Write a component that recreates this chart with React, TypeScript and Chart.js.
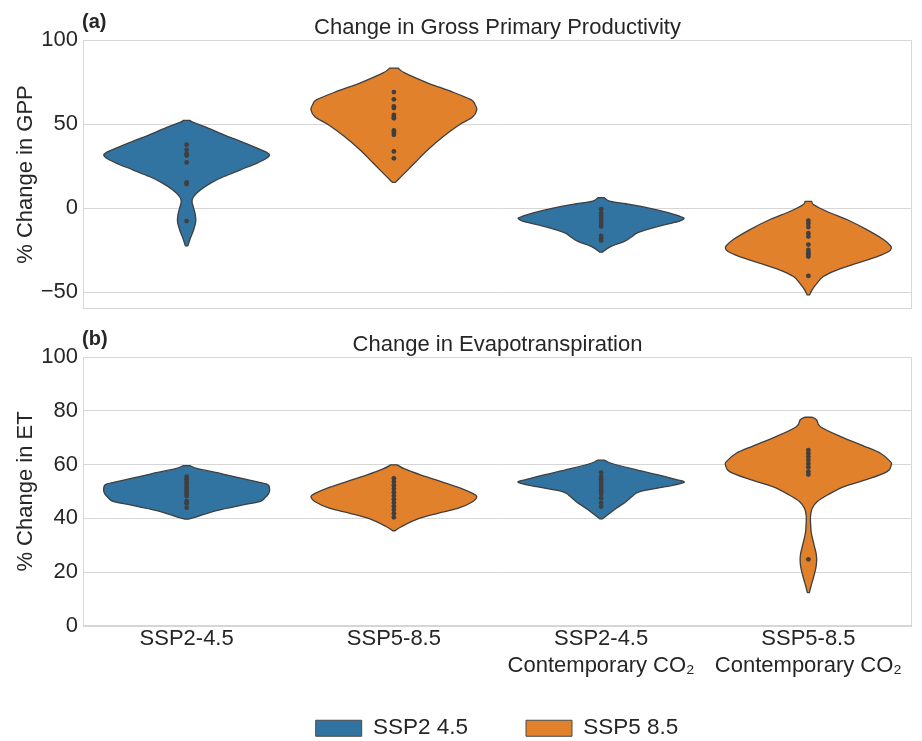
import React, { useEffect, useRef } from 'react';
import { Chart, registerables } from 'chart.js';

Chart.register(...registerables);

const FONT = '"Liberation Sans", Arial, Helvetica, sans-serif';
const TEXT = '#262626';
const GRID = '#d6d6d6';
const EDGE = '#3f3f3f';
const BLUE = '#3274a1';
const ORANGE = '#e1812c';

// categories (x axis)
const categories: string[][] = [
  ['SSP2-4.5'],
  ['SSP5-8.5'],
  ['SSP2-4.5', 'Contemporary CO\u2082'],
  ['SSP5-8.5', 'Contemporary CO\u2082'],
];
const seriesColors = [BLUE, ORANGE, BLUE, ORANGE];
const legendLabels = ['SSP2 4.5', 'SSP5 8.5'];
const legendColors = [BLUE, ORANGE];

// tick labels
const gppTicks = [-50, 0, 50, 100];
const etTicks = [0, 20, 40, 60, 80, 100];

// (a) GPP model values (% change)
const gppSSP245 = [37.7, 34.7, 32.3, 31.3, 27.2, 15.3, 14.3, -7.7];
const gppSSP585 = [69.0, 64.7, 60.5, 59.5, 55.4, 54.2, 53.4, 46.2, 45.0, 43.6, 33.7, 29.6];
const gppSSP245C = [-0.6, -3.0, -4.6, -6.2, -7.7, -9.3, -10.9, -16.5, -18.1, -19.2];
const gppSSP585C = [-7.4, -9.2, -11.3, -14.9, -16.9, -21.7, -24.8, -26.2, -27.4, -28.8, -40.3];

// (b) ET model values (% change)
const etSSP245 = [55.5, 54.6, 53.6, 52.8, 51.8, 51.0, 50.1, 49.2, 48.3, 46.4, 45.6, 44.0];
const etSSP585 = [54.9, 53.6, 52.3, 51.0, 49.7, 48.4, 47.1, 45.8, 44.5, 43.2, 41.8, 40.4];
const etSSP245C = [57.0, 55.5, 54.5, 53.7, 52.8, 51.8, 50.8, 49.9, 49.1, 47.5, 45.8, 44.4];
const etSSP585C = [65.4, 64.2, 62.9, 61.7, 60.3, 59.0, 57.4, 56.3, 24.8];

// violin density profiles: [value, relative half-width]
const gppShape245 = [[52.2, 0.04], [51.0, 0.08], [48.0, 0.24], [43.6, 0.45], [39.7, 0.65], [35.7, 0.85], [33.1, 0.97], [31.7, 1.0], [29.8, 0.97], [26.8, 0.85], [22.8, 0.65], [18.8, 0.45], [14.9, 0.29], [10.9, 0.17], [6.9, 0.085], [4.0, 0.065], [0, 0.085], [-4.0, 0.105], [-7.9, 0.11], [-12.9, 0.085], [-17.9, 0.045], [-22.4, 0.015]];
const gppShape585 = [[83.3, 0.05], [80.4, 0.13], [74.4, 0.41], [69.4, 0.69], [64.5, 0.93], [61.5, 0.98], [58.5, 1.0], [54.2, 0.95], [49.6, 0.79], [42.7, 0.6], [34.7, 0.41], [26.8, 0.25], [20.8, 0.13], [16.9, 0.05], [15.3, 0.015]];
const gppShape245C = [[6.2, 0.04], [4.2, 0.1], [2.6, 0.3], [1.0, 0.48], [-1.4, 0.7], [-4.0, 0.9], [-5.4, 0.975], [-6.3, 1.0], [-7.9, 0.94], [-9.9, 0.76], [-12.9, 0.54], [-14.9, 0.43], [-17.3, 0.36], [-19.8, 0.28], [-22.8, 0.12], [-26.2, 0.015]];
const gppShape585C = [[4.0, 0.04], [2.0, 0.065], [-2.0, 0.225], [-6.9, 0.47], [-12.9, 0.71], [-18.8, 0.91], [-22.4, 0.99], [-23.8, 1.0], [-25.8, 0.97], [-28.8, 0.83], [-32.7, 0.59], [-36.7, 0.35], [-40.7, 0.18], [-44.6, 0.105], [-48.6, 0.045], [-51.6, 0.015]];
const etShape245 = [[59.6, 0.04], [58.4, 0.145], [56.5, 0.44], [54.5, 0.72], [52.8, 0.96], [51.2, 1.0], [49.3, 0.99], [47.5, 0.94], [46.2, 0.88], [45.0, 0.68], [42.9, 0.36], [40.6, 0.12], [39.7, 0.015]];
const etShape585 = [[59.9, 0.04], [58.4, 0.13], [56.1, 0.33], [53.7, 0.57], [51.2, 0.81], [49.3, 0.95], [48.1, 1.0], [46.2, 0.95], [43.7, 0.77], [41.9, 0.53], [39.8, 0.29], [36.9, 0.09], [35.4, 0.015]];
const etShape245C = [[61.7, 0.04], [60.5, 0.12], [58.4, 0.38], [56.1, 0.7], [54.5, 0.9], [53.4, 1.0], [51.8, 0.78], [49.9, 0.46], [48.3, 0.38], [46.2, 0.3], [43.7, 0.18], [40.9, 0.06], [39.8, 0.015]];
const etShape585C = [[77.6, 0.045], [76.6, 0.1], [74.1, 0.145], [70.4, 0.39], [66.9, 0.67], [64.2, 0.87], [61.1, 0.99], [59.9, 1.0], [57.4, 0.95], [54.5, 0.71], [51.8, 0.43], [48.7, 0.23], [46.2, 0.105], [43.7, 0.045], [40.6, 0.025], [37.5, 0.028], [34.4, 0.036], [30.7, 0.064], [27.0, 0.093], [24.8, 0.1], [22.1, 0.093], [18.3, 0.064], [14.6, 0.03], [12.4, 0.012]];

const fmtTick = (v: number) => (v < 0 ? '\u2212' + Math.abs(v) : String(v));

function spline(ctx: CanvasRenderingContext2D, pts: number[][], move: boolean) {
  if (move) ctx.moveTo(pts[0][0], pts[0][1]);
  else ctx.lineTo(pts[0][0], pts[0][1]);
  for (let i = 0; i < pts.length - 1; i++) {
    const p0 = pts[Math.max(i - 1, 0)];
    const p1 = pts[i];
    const p2 = pts[i + 1];
    const p3 = pts[Math.min(i + 2, pts.length - 1)];
    ctx.bezierCurveTo(
      p1[0] + (p2[0] - p0[0]) / 6, p1[1] + (p2[1] - p0[1]) / 6,
      p2[0] - (p3[0] - p1[0]) / 6, p2[1] - (p3[1] - p1[1]) / 6,
      p2[0], p2[1]
    );
  }
}

function panelPlugin(shapes: number[][][], title: string, letter: string) {
  return {
    id: 'panel' + letter.replace(/\W/g, ''),
    beforeDatasetsDraw(chart: any) {
      const { ctx, chartArea: a, scales } = chart;
      const x = scales.x;
      const y = scales.y;
      ctx.save();
      ctx.strokeStyle = GRID;
      ctx.lineWidth = 1;
      ctx.strokeRect(Math.round(a.left) + 0.5, Math.round(a.top) + 0.5, Math.round(a.right) - Math.round(a.left) - 1, Math.round(a.bottom) - Math.round(a.top) - 1);
      const unit = x.getPixelForValue(1) - x.getPixelForValue(0);
      const half = 0.4 * unit;
      shapes.forEach((shape, i) => {
        const cx = x.getPixelForValue(i);
        const left = shape.map(([v, w]) => [cx - w * half, y.getPixelForValue(v)]);
        const right = shape.map(([v, w]) => [cx + w * half, y.getPixelForValue(v)]).reverse();
        ctx.beginPath();
        spline(ctx, left, true);
        spline(ctx, right, false);
        ctx.closePath();
        ctx.fillStyle = seriesColors[i];
        ctx.fill();
        ctx.strokeStyle = EDGE;
        ctx.lineWidth = 1.3;
        ctx.lineJoin = 'round';
        ctx.stroke();
      });
      ctx.restore();
    },
    afterDraw(chart: any) {
      const { ctx, chartArea: a } = chart;
      ctx.save();
      ctx.fillStyle = TEXT;
      ctx.textBaseline = 'alphabetic';
      ctx.textAlign = 'center';
      ctx.font = `22px ${FONT}`;
      ctx.fillText(title, (a.left + a.right) / 2, a.top - 6);
      ctx.textAlign = 'left';
      ctx.font = `bold 20px ${FONT}`;
      ctx.fillText(letter, a.left - 1, a.top - 12);
      ctx.restore();
    },
  };
}

function panelConfig(opts: any): any {
  const { dots, shapes, ticks, min, max, yTitle, title, letter, showX, padding } = opts;
  const points = dots.flatMap((arr: number[], i: number) => arr.map((v) => ({ x: i, y: v })));
  return {
    type: 'scatter',
    data: {
      datasets: [
        {
          label: 'models',
          data: points,
          pointRadius: 2.4,
          pointHoverRadius: 2.4,
          pointBackgroundColor: EDGE,
          pointBorderWidth: 0,
        },
      ],
    },
    options: {
      responsive: false,
      animation: false,
      events: [],
      layout: { padding },
      plugins: { legend: { display: false }, tooltip: { enabled: false } },
      scales: {
        x: {
          type: 'linear',
          min: -0.5,
          max: 3.5,
          display: showX,
          grid: { display: false, drawTicks: false, tickLength: 0 },
          border: { display: false },
          afterBuildTicks: (s: any) => {
            s.ticks = categories.map((_, i) => ({ value: i }));
          },
          ticks: {
            autoSkip: false,
            maxRotation: 0,
            minRotation: 0,
            padding: 0,
            color: TEXT,
            font: { family: FONT, size: 22 },
            callback: (v: number) => categories[Math.round(v)],
          },
          afterFit: (s: any) => {
            s.height = showX ? 60 : 0;
          },
        },
        y: {
          type: 'linear',
          min,
          max,
          grid: { color: GRID, lineWidth: 1, drawTicks: false, tickLength: 0 },
          border: { display: false },
          afterBuildTicks: (s: any) => {
            s.ticks = ticks.map((v: number) => ({ value: v }));
          },
          ticks: {
            padding: 5,
            color: TEXT,
            font: { family: FONT, size: 22 },
            callback: (v: number) => fmtTick(v),
          },
          title: {
            display: true,
            text: yTitle,
            color: TEXT,
            font: { family: FONT, size: 22 },
            padding: { top: 13, bottom: 0 },
          },
          afterFit: (s: any) => {
            s.width = 83;
          },
        },
      },
    },
    plugins: [panelPlugin(shapes, title, letter)],
  };
}

export default function App() {
  const r1 = useRef<HTMLCanvasElement>(null);
  const r2 = useRef<HTMLCanvasElement>(null);
  const r3 = useRef<HTMLCanvasElement>(null);

  useEffect(() => {
    document.body.style.margin = '0';
    const c1 = new Chart(
      r1.current as HTMLCanvasElement,
      panelConfig({
        dots: [gppSSP245, gppSSP585, gppSSP245C, gppSSP585C],
        shapes: [gppShape245, gppShape585, gppShape245C, gppShape585C],
        ticks: gppTicks,
        min: -60,
        max: 100,
        yTitle: '% Change in GPP',
        title: 'Change in Gross Primary Productivity',
        letter: '(a)',
        showX: false,
        padding: { top: 40, right: 10, bottom: 21, left: 0 },
      })
    );
    const c2 = new Chart(
      r2.current as HTMLCanvasElement,
      panelConfig({
        dots: [etSSP245, etSSP585, etSSP245C, etSSP585C],
        shapes: [etShape245, etShape585, etShape245C, etShape585C],
        ticks: etTicks,
        min: 0,
        max: 100,
        yTitle: '% Change in ET',
        title: 'Change in Evapotranspiration',
        letter: '(b)',
        showX: true,
        padding: { top: 39, right: 10, bottom: 55, left: 0 },
      })
    );
    const c3 = new Chart(r3.current as HTMLCanvasElement, {
      type: 'bar',
      data: {
        labels: [],
        datasets: legendLabels.map((l, i) => ({
          label: l,
          data: [],
          backgroundColor: legendColors[i],
          borderColor: '#4a4a4a',
          borderWidth: 1,
        })),
      },
      options: {
        responsive: false,
        animation: false,
        events: [],
        layout: { padding: 0 },
        scales: { x: { display: false }, y: { display: false } },
        plugins: {
          tooltip: { enabled: false },
          legend: {
            position: 'top',
            labels: {
              boxWidth: 46,
              boxHeight: 16,
              padding: 58,
              color: TEXT,
              font: { family: FONT, size: 22.5 },
            },
          },
        },
      },
    } as any);
    return () => {
      c1.destroy();
      c2.destroy();
      c3.destroy();
    };
  }, []);

  return (
    <div style={{ position: 'relative', width: 922, height: 741, overflow: 'hidden', background: '#ffffff' }}>
      <canvas ref={r1} width={922} height={330} style={{ position: 'absolute', left: 0, top: 0 }} />
      <canvas ref={r2} width={922} height={423} style={{ position: 'absolute', left: 0, top: 318 }} />
      <canvas ref={r3} width={830} height={220} style={{ position: 'absolute', left: 82, top: 659 }} />
    </div>
  );
}
